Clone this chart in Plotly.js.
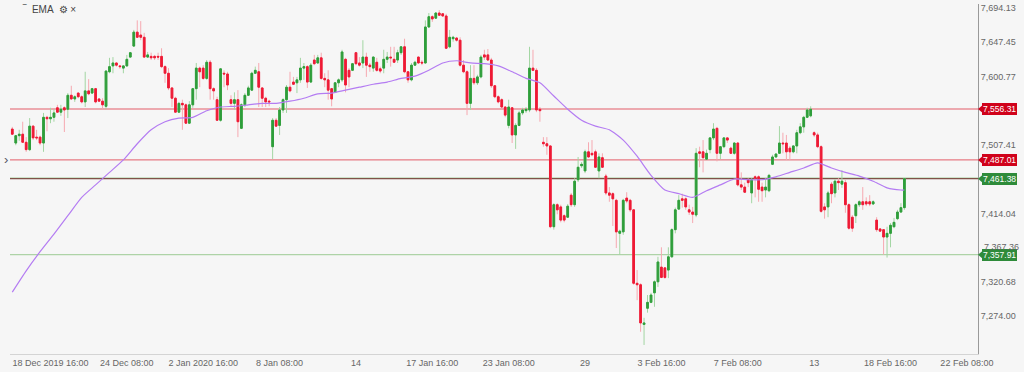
<!DOCTYPE html>
<html><head><meta charset="utf-8">
<script src="https://cdn.plot.ly/plotly-3.0.1.min.js"></script>
<style>html,body{margin:0;padding:0;background:#f6f6f6;}#chart{width:1024px;height:372px;}</style>
</head><body><div id="chart"></div>
<script>
const open=[7529,7510,7520,7522,7511,7501,7533,7518,7518,7510,7545,7543,7545,7558,7552,7558,7556,7575,7570,7578,7573,7566,7581,7578,7584,7570,7567,7560,7607,7615,7619,7615,7612,7615,7627,7642,7661,7657,7654,7627,7628,7628,7628,7628,7614,7605,7585,7571,7552,7564,7562,7537,7562,7584,7612,7612,7598,7620,7584,7569,7541,7605,7604,7569,7564,7569,7530,7562,7575,7582,7605,7607,7585,7571,7567,7505,7541,7534,7555,7569,7586,7593,7592,7596,7612,7614,7593,7623,7619,7626,7598,7596,7584,7579,7592,7596,7624,7609,7609,7633,7619,7619,7627,7616,7612,7620,7611,7612,7624,7627,7624,7623,7633,7641,7607,7596,7616,7627,7620,7619,7668,7682,7680,7687,7686,7683,7641,7652,7653,7650,7616,7607,7564,7598,7592,7600,7630,7630,7623,7588,7573,7569,7559,7534,7558,7521,7534,7551,7554,7555,7612,7609,7556,7511,7509,7506,7396,7426,7423,7411,7409,7439,7426,7460,7479,7472,7498,7496,7498,7472,7490,7465,7442,7441,7432,7387,7389,7435,7432,7419,7319,7317,7263,7285,7293,7306,7321,7341,7340,7337,7355,7392,7420,7434,7434,7419,7416,7412,7498,7498,7488,7501,7517,7530,7496,7505,7517,7503,7496,7510,7453,7450,7460,7442,7464,7464,7450,7446,7445,7481,7491,7496,7510,7510,7503,7498,7506,7524,7532,7545,7547,7524,7521,7505,7423,7423,7454,7442,7458,7454,7456,7426,7409,7411,7426,7430,7430,7430,7427,7405,7393,7392,7382,7387,7396,7407,7416,7422];
const high=[7532,7521,7528,7539,7518,7544,7534,7528,7520,7551,7547,7558,7556,7562,7562,7560,7578,7588,7575,7579,7575,7607,7597,7585,7585,7571,7571,7609,7626,7627,7620,7616,7616,7630,7634,7664,7677,7676,7660,7634,7633,7630,7633,7639,7616,7612,7586,7573,7566,7569,7564,7567,7585,7619,7614,7616,7623,7623,7586,7573,7612,7609,7607,7575,7579,7582,7564,7578,7588,7607,7614,7619,7586,7573,7569,7544,7544,7559,7571,7589,7607,7600,7600,7626,7619,7616,7619,7630,7630,7633,7605,7609,7585,7593,7598,7637,7626,7612,7619,7634,7627,7650,7633,7619,7628,7626,7614,7637,7634,7641,7641,7637,7642,7652,7608,7619,7622,7628,7623,7677,7687,7684,7688,7691,7687,7686,7664,7656,7654,7654,7623,7609,7616,7616,7603,7630,7637,7638,7626,7589,7575,7571,7560,7569,7559,7537,7554,7558,7559,7641,7637,7612,7559,7518,7518,7507,7428,7428,7426,7413,7427,7442,7462,7491,7484,7501,7511,7514,7501,7496,7496,7468,7450,7443,7434,7392,7434,7443,7434,7420,7337,7319,7272,7303,7306,7323,7355,7368,7341,7368,7394,7422,7439,7441,7436,7426,7423,7503,7505,7514,7501,7518,7537,7532,7506,7518,7518,7505,7511,7511,7470,7456,7462,7462,7466,7466,7456,7462,7468,7494,7496,7533,7524,7521,7506,7507,7528,7537,7547,7558,7560,7526,7524,7507,7428,7445,7457,7461,7462,7473,7460,7428,7412,7428,7432,7450,7436,7439,7432,7409,7394,7392,7396,7401,7408,7419,7428,7462];
const low=[7521,7507,7513,7510,7498,7499,7514,7514,7507,7498,7526,7537,7539,7551,7547,7525,7544,7569,7566,7571,7564,7559,7575,7577,7564,7566,7556,7556,7605,7605,7614,7611,7605,7614,7626,7641,7653,7650,7626,7626,7623,7623,7623,7612,7592,7582,7559,7551,7551,7528,7536,7536,7558,7569,7586,7596,7596,7569,7569,7540,7539,7586,7582,7559,7555,7518,7529,7559,7574,7581,7604,7559,7559,7559,7560,7488,7532,7521,7551,7551,7579,7589,7578,7592,7596,7585,7592,7616,7618,7596,7586,7569,7560,7578,7586,7593,7579,7586,7608,7616,7614,7612,7600,7607,7607,7607,7605,7605,7619,7614,7619,7619,7630,7605,7592,7594,7615,7618,7616,7618,7667,7675,7679,7683,7682,7638,7639,7648,7648,7614,7605,7548,7555,7589,7589,7598,7623,7622,7585,7571,7564,7558,7545,7530,7510,7502,7533,7548,7551,7552,7608,7552,7539,7505,7494,7394,7392,7413,7402,7402,7408,7423,7423,7457,7476,7469,7490,7492,7476,7462,7476,7439,7430,7397,7367,7358,7385,7428,7416,7317,7296,7253,7235,7279,7292,7287,7314,7326,7325,7326,7354,7387,7419,7422,7419,7412,7401,7409,7477,7470,7487,7496,7514,7485,7488,7503,7510,7495,7494,7451,7446,7442,7450,7428,7436,7430,7430,7436,7443,7480,7490,7495,7496,7487,7487,7496,7496,7522,7524,7544,7545,7518,7503,7415,7407,7409,7428,7436,7446,7449,7415,7392,7389,7401,7423,7419,7424,7424,7426,7389,7389,7358,7354,7368,7394,7405,7415,7419];
const close=[7522,7520,7522,7511,7501,7533,7517,7517,7510,7545,7543,7545,7551,7552,7556,7555,7575,7570,7573,7573,7566,7581,7577,7584,7566,7567,7562,7608,7614,7619,7616,7614,7615,7624,7633,7661,7654,7654,7627,7630,7626,7626,7627,7614,7605,7585,7571,7552,7564,7562,7537,7562,7584,7612,7607,7598,7620,7584,7581,7541,7611,7604,7589,7564,7569,7539,7562,7575,7585,7605,7609,7586,7571,7566,7566,7541,7533,7555,7569,7586,7581,7590,7596,7612,7614,7593,7616,7618,7626,7598,7596,7582,7570,7592,7596,7634,7589,7600,7618,7618,7616,7627,7616,7614,7627,7609,7608,7624,7627,7626,7620,7633,7641,7607,7596,7616,7620,7619,7619,7668,7682,7679,7687,7684,7683,7639,7654,7654,7650,7616,7607,7564,7598,7592,7600,7627,7627,7623,7588,7573,7566,7559,7548,7559,7521,7534,7551,7555,7556,7612,7609,7555,7554,7509,7506,7396,7426,7419,7405,7405,7424,7426,7458,7477,7481,7498,7491,7494,7477,7491,7477,7442,7439,7434,7389,7390,7432,7431,7419,7319,7317,7265,7265,7293,7303,7321,7348,7327,7327,7355,7392,7419,7432,7432,7423,7416,7413,7496,7496,7490,7496,7517,7529,7496,7505,7517,7514,7496,7510,7453,7450,7443,7456,7460,7462,7447,7445,7450,7466,7491,7495,7510,7509,7498,7498,7506,7524,7532,7545,7555,7556,7521,7505,7417,7419,7442,7441,7458,7456,7458,7426,7394,7394,7426,7430,7426,7427,7427,7430,7392,7390,7382,7387,7398,7402,7416,7422,7461.38];

const emaIdx=[0,4,8,12,16,20,24,28,32,36,40,44,48,52,56,60,64,68,72,76,80,84,88,92,96,100,104,108,112,116,120,124,128,132,136,140,144,148,152,156,160,164,168,172,176,180,184,188,192,196,200,204,208,212,216,220,224,228,232,236,240,244,248,252,256,257];
const emaVal=[7307,7336,7362,7386,7411,7436,7453,7470,7487,7509,7528,7539,7544,7545,7554,7559,7560,7562,7564,7564,7567,7571,7577,7578,7582,7586,7590,7593,7598,7601,7609,7619,7622,7619,7618,7615,7607,7598,7592,7574,7556,7541,7533,7528,7514,7492,7466,7446,7441,7436,7445,7453,7461,7460,7460,7464,7470,7476,7483,7476,7470,7465,7458,7449,7446,7446];

const tickIdx=[11,33,55,77,99,121,143,165,187,209,231,253,275];
const tickLabels=['18 Dec 2019 16:00','24 Dec 08:00','2 Jan 2020 16:00','8 Jan 08:00','14','17 Jan 16:00','23 Jan 08:00','29','3 Feb 16:00','7 Feb 08:00','13','18 Feb 16:00','22 Feb 08:00'];
const yTicks=[7694.13,7647.45,7600.77,7507.41,7414.04,7320.68,7274.00];
const yTickRaised=[7367.36];

const levels=[7556.31,7487.01,7461.38,7357.91];
const levelLabels=['7,556.31','7,487.01','7,461.38','7,357.91'];
const levelLine=['#e35d68','#e35d68','#6e2b26','#9ccb94'];
const levelBadge=['#d0021b','#d0021b','#2e8b3a','#2e8b3a'];

const yRange=[7222.7,7699.3];
const xRange=[-0.66,278.2];

const idx=open.map((_,i)=>i);
const bodyHigh=open.map((o,i)=>Math.max(o,close[i]));
const bodyLow=open.map((o,i)=>Math.min(o,close[i]));

const traces=[
 {type:'candlestick',x:idx,open:open,high:high,low:low,close:close,whiskerwidth:0,
  increasing:{line:{color:'#a3d6a3',width:1},fillcolor:'#a3d6a3'},
  decreasing:{line:{color:'#f6a9b1',width:1},fillcolor:'#f6a9b1'},
  hoverinfo:'skip',showlegend:false},
 {type:'candlestick',x:idx,open:open,high:bodyHigh,low:bodyLow,close:close,whiskerwidth:0,
  increasing:{line:{color:'#2f9e3b',width:1},fillcolor:'#2f9e3b'},
  decreasing:{line:{color:'#ee1a35',width:1},fillcolor:'#ee1a35'},
  showlegend:false},
 {type:'scatter',mode:'lines',x:emaIdx,y:emaVal,line:{color:'#b47cf2',width:1.2,shape:'spline',smoothing:0.6},showlegend:false,hoverinfo:'skip'}
];

const toPaperY=v=>(v-yRange[0])/(yRange[1]-yRange[0]);
const shapes=[];
const annotations=[];
const fontFam='Arial, "Liberation Sans", sans-serif';
levels.forEach((v,k)=>{
  if(k===2){
    shapes.push({type:'line',xref:'paper',x0:0,x1:1,yref:'y',y0:v+0.9,y1:v+0.9,line:{color:'#9ccb94',width:1},layer:'below'});
  }
  shapes.push({type:'line',xref:'paper',x0:0,x1:1,yref:'y',y0:v,y1:v,line:{color:levelLine[k],width:1},layer:'below'});
  const py=toPaperY(v), dy=4.5/350;
  shapes.push({type:'path',xref:'paper',yref:'paper',path:`M 1,${py} L 1.0055,${py+dy} L 1.0055,${py-dy} Z`,fillcolor:levelBadge[k],line:{width:0}});
  annotations.push({xref:'paper',x:1,xanchor:'left',xshift:4,yref:'y',y:v,yanchor:'middle',text:levelLabels[k],showarrow:false,
    bgcolor:levelBadge[k],bordercolor:levelBadge[k],borderpad:0,font:{size:8.5,color:'#ffffff',family:fontFam}});
});
yTickRaised.forEach(v=>{
  annotations.push({xref:'paper',x:1,xanchor:'left',xshift:4,yref:'y',y:v,yanchor:'middle',yshift:1,showarrow:false,
    text:v.toLocaleString('en-US',{minimumFractionDigits:2,maximumFractionDigits:2}),font:{size:9,color:'#666',family:fontFam}});
});
annotations.push({xref:'paper',x:0,xanchor:'left',xshift:10,yref:'paper',y:1,yanchor:'top',yshift:2,showarrow:false,
  text:'‾  EMA  ⚙ ×',font:{size:10,color:'#444',family:fontFam}});
annotations.push({xref:'paper',x:0,xanchor:'right',xshift:0,yref:'y',y:7487,showarrow:false,text:'›',font:{size:13,color:'#556'}});

const layout={
 width:1024,height:372,
 margin:{l:10,r:46,t:4,b:18},
 paper_bgcolor:'#f6f6f6',plot_bgcolor:'#f6f6f6',
 font:{family:fontFam,size:9,color:'#666'},
 showlegend:false,
 xaxis:{range:xRange,rangeslider:{visible:false},tickmode:'array',tickvals:tickIdx,ticktext:tickLabels,showgrid:false,zeroline:false,
   showline:true,linecolor:'#d4d4d4',ticks:'',tickfont:{size:9,color:'#666'},fixedrange:true},
 yaxis:{side:'right',range:yRange,tickmode:'array',tickvals:yTicks,tickformat:',.2f',showgrid:false,zeroline:false,
   showline:true,linecolor:'#9a9a9a',ticks:'',tickfont:{size:9,color:'#666'},fixedrange:true},
 shapes:shapes,annotations:annotations
};
Plotly.newPlot('chart',traces,layout,{staticPlot:true,displayModeBar:false});
</script></body></html>
